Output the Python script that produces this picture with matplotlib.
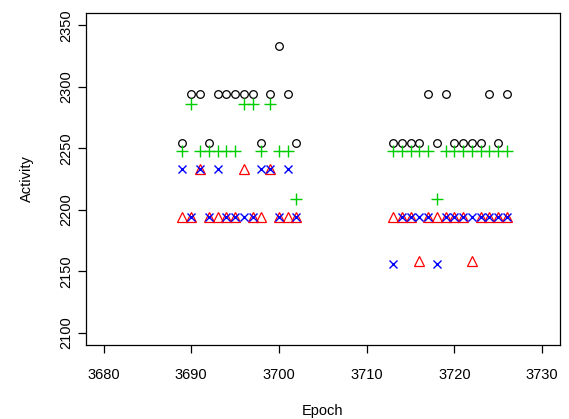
import matplotlib
matplotlib.use("Agg")
import matplotlib.pyplot as plt

# epochs of the two sessions
epochs = list(range(3689, 3703)) + list(range(3713, 3727))

# activity values for the four series (one value per epoch)
black_vals = [2254, 2294, 2294, 2254, 2294, 2294, 2294, 2294, 2294, 2254, 2294, 2333, 2294, 2254,
              2254, 2254, 2254, 2254, 2294, 2254, 2294, 2254, 2254, 2254, 2254, 2294, 2254, 2294]
red_vals = [2194, 2194, 2233, 2194, 2194, 2194, 2194, 2233, 2194, 2194, 2233, 2194, 2194, 2194,
            2194, 2194, 2194, 2158, 2194, 2194, 2194, 2194, 2194, 2158, 2194, 2194, 2194, 2194]
green_vals = [2248, 2286, 2248, 2248, 2248, 2248, 2248, 2286, 2286, 2248, 2286, 2248, 2248, 2209,
              2248, 2248, 2248, 2248, 2248, 2209, 2248, 2248, 2248, 2248, 2248, 2248, 2248, 2248]
blue_vals = [2233, 2194, 2233, 2194, 2233, 2194, 2194, 2194, 2194, 2233, 2233, 2194, 2233, 2194,
             2156, 2194, 2194, 2194, 2194, 2156, 2194, 2194, 2194, 2194, 2194, 2194, 2194, 2194]

x_ticks = [3680, 3690, 3700, 3710, 3720, 3730]
y_ticks = [2100, 2150, 2200, 2250, 2300, 2350]

plt.rcParams['font.family'] = ['Liberation Sans', 'DejaVu Sans']

fig = plt.figure(figsize=(5.69, 4.19), dpi=100)
ax_w, ax_h = 559.6 - 86, 345 - 13
ax = fig.add_axes([86 / 569, 1 - 345 / 419, ax_w / 569, ax_h / 419])

ms = 5.5
ax.plot(epochs, black_vals, 'o', mfc='none', mec='black', ms=ms, mew=0.9, ls='none')
ax.plot(epochs, red_vals, '^', mfc='none', mec='#FF0000', ms=ms + 1.5, mew=0.9, ls='none')
ax.plot(epochs, green_vals, '+', color='#00CD00', ms=ms + 3, mew=1.0, ls='none')
ax.plot(epochs, blue_vals, 'x', color='#0000FF', ms=ms, mew=1.0, ls='none')

ax.set_xlim(3678, 3732)
ax.set_ylim(2090, 2360)
ax.set_xticks(x_ticks)
ax.set_yticks(y_ticks)
ax.set_yticklabels([str(v) for v in y_ticks], rotation=90, va='center')
ax.tick_params(direction='out', length=5.8, width=0.9, labelsize=10.5)
ax.tick_params(axis='x', pad=11)
ax.tick_params(axis='y', pad=3.6)

for s in ax.spines.values():
    s.set_linewidth(0.9)

ax.set_xlabel('Epoch', fontsize=10.5, va='center')
ax.xaxis.set_label_coords(0.5, -(411 - 345) / ax_h)
ax.set_ylabel('Activity', fontsize=10.5, va='center')
ax.yaxis.set_label_coords(-(86 - 27) / ax_w, 0.5)

fig.savefig('out.png', dpi=100)
